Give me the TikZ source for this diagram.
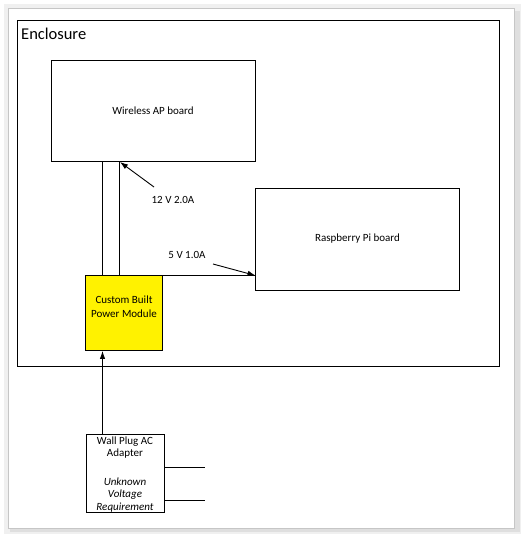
\documentclass[tikz,border=0pt]{standalone}
\usepackage{fontspec}
\setmainfont{Carlito}
\usetikzlibrary{arrows.meta}
\begin{document}
\begin{tikzpicture}[x=1pt,y=-1pt,
  box/.style={draw=black,line width=0.9pt,inner sep=0pt},
  lbl/.style={font=\fontsize{11}{12}\selectfont,inner sep=0pt},
  ilbl/.style={font=\fontsize{11}{12}\selectfont\itshape,inner sep=0pt},
  wire/.style={draw=black,line width=0.9pt},
  arr/.style={wire,-{Latex[length=8pt,width=5.5pt]}}]
\useasboundingbox (0,0) rectangle (522,536);
% page frame with shadow
\fill[gray!12] (4,4) rectangle (521,534);
\fill[gray!25] (10,11) rectangle (520,532);
\fill[white,draw=gray!45,line width=0.5pt] (8,8) rectangle (514,528);
% enclosure
\draw[wire] (17,20) rectangle (499,366);
\node[anchor=west,inner sep=0pt,font=\fontsize{16.5}{18}\selectfont] (encl) at (21,34) {Enclosure};
% boards
\node[box,minimum width=204pt,minimum height=101pt] (ap) at (153,110.5) {};
\node[lbl] (aptext) at (153,110.5) {Wireless AP board};
\node[box,minimum width=204pt,minimum height=102pt] (rpi) at (357.5,239) {};
\node[lbl] (rpitext) at (357.5,239) {Raspberry Pi board};
% power module
\node[box,fill=yellow,minimum width=77pt,minimum height=75pt] (pm) at (124,313) {};
\node[lbl] (pm1) at (124,300) {Custom Built};
\node[lbl] (pm2) at (124,313.5) {Power Module};
% wall plug
\node[box,minimum width=78pt,minimum height=78pt] (wp) at (125,473) {};
\node[lbl] (wp1) at (125,441.5) {Wall Plug AC};
\node[lbl] (wp2) at (125,454) {Adapter};
\node[ilbl] (wp3) at (125,482) {Unknown};
\node[ilbl] (wp4) at (125,494.5) {Voltage};
\node[ilbl] (wp5) at (125,507.5) {Requirement};
% connectors
\coordinate (c1b) at (102.5,161);
\coordinate (c1t) at (102.5,275.5);
\coordinate (c2b) at (119.5,161);
\coordinate (c2t) at (119.5,275.5);
\coordinate (rpin) at (255.5,275.5);
\draw[wire] (c1t) -- (c1b);
\draw[wire] (c2t) -- (c2b);
\draw[wire] (c2t) -- (rpin);
\draw[arr] (wp.north -| c1t) -- (pm.south -| c1t);
\coordinate (o1) at (205,467.5);
\coordinate (o2) at (205,500.5);
\draw[wire] (wp.east |- o1) -- (o1);
\draw[wire] (wp.east |- o2) -- (o2);
% annotations
\node[lbl] (v12) at (173,200) {12 V 2.0A};
\node[lbl] (v5) at (187,255) {5 V 1.0A};
\coordinate (a1) at (154,187);
\coordinate (a2) at (213,264);
\draw[arr] (a1) -- (120,162);
\draw[arr] (a2) -- (rpin);
\end{tikzpicture}
\end{document}
